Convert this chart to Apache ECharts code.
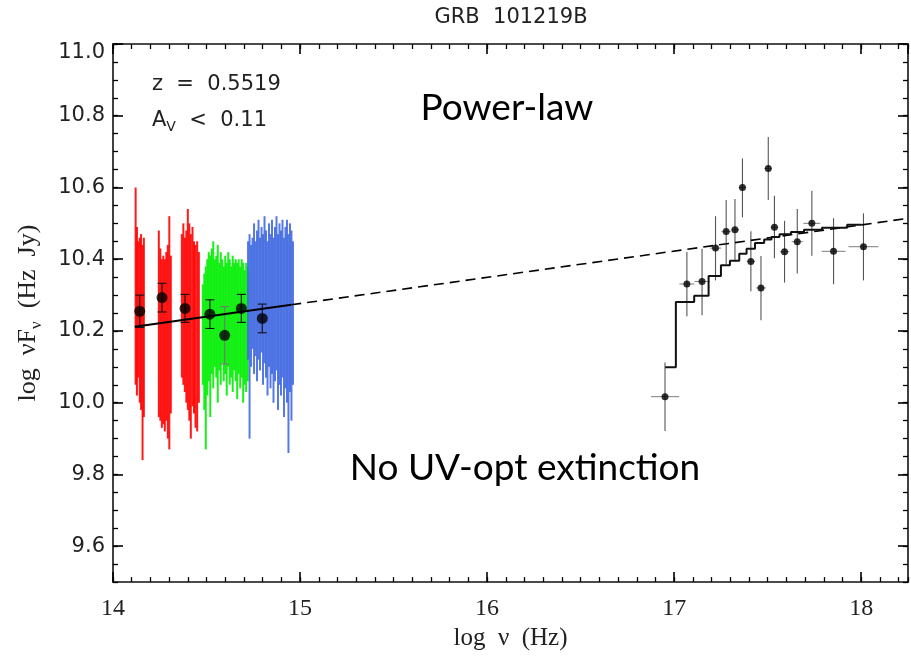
<!DOCTYPE html>
<html><head><meta charset="utf-8">
<script src="https://cdn.jsdelivr.net/npm/echarts@6/dist/echarts.min.js"></script>
<style>html,body{margin:0;padding:0;background:#fff}#c{width:911px;height:656px}</style>
</head><body><div id="c"></div>
<script>
// ---- tick labels ----
const xTicks = [14, 15, 16, 17, 18];
const yTicks = [9.6, 9.8, 10.0, 10.2, 10.4, 10.6, 10.8, 11.0];

// ---- UV/optical spectra: bin centre (log nu) and low/high of each error line ----
const redX  = [14.121,14.128,14.135,14.143,14.150,14.158,14.165, 14.245,14.253,14.261,14.269,14.277,14.285,14.293,14.301,14.309, 14.368,14.376,14.384,14.392,14.400,14.408,14.416,14.425,14.433,14.441,14.450,14.459];
const redLo = [10.05,10.02,10.07,10.00,9.98,9.84,9.96, 9.96,9.95,9.93,9.94,9.92,9.95,9.90,9.87,9.97, 10.07,10.05,10.03,10.00,9.98,9.95,9.90,9.99,9.97,9.93,9.92,10.00];
const redHi = [10.60,10.49,10.45,10.46,10.47,10.44,10.46, 10.48,10.43,10.40,10.41,10.40,10.42,10.44,10.52,10.41, 10.47,10.50,10.46,10.48,10.54,10.50,10.47,10.49,10.45,10.44,10.45,10.42];

const greenX  = [14.480,14.488,14.496,14.504,14.512,14.520,14.528,14.536,14.544,14.552,14.560,14.568,14.576,14.584,14.592,14.600,14.608,14.616,14.624,14.632,14.640,14.648,14.656,14.664,14.672,14.680,14.688,14.696,14.704,14.712,14.720];
const greenLo = [10.05,9.98,9.87,10.02,10.06,9.96,10.08,10.04,10.10,10.07,10.00,10.09,10.05,10.11,10.06,10.08,10.02,10.10,10.05,10.07,10.03,10.09,10.06,10.01,10.08,10.04,10.07,10.00,10.05,10.03,10.06];
const greenHi = [10.33,10.36,10.38,10.40,10.42,10.41,10.43,10.45,10.40,10.41,10.44,10.39,10.42,10.40,10.38,10.41,10.39,10.42,10.40,10.38,10.41,10.39,10.40,10.39,10.40,10.38,10.40,10.39,10.37,10.39,10.38];

const blueX  = [14.722,14.730,14.738,14.746,14.754,14.762,14.770,14.778,14.786,14.794,14.802,14.810,14.818,14.826,14.834,14.842,14.850,14.858,14.866,14.874,14.882,14.890,14.898,14.906,14.914,14.922,14.930,14.938,14.946,14.954,14.962];
const blueLo = [10.12,9.90,10.10,10.15,10.08,10.13,10.06,10.12,10.09,10.14,10.05,10.11,10.07,10.02,10.10,10.04,10.08,10.00,10.06,10.09,9.98,10.05,10.02,10.07,9.96,10.04,10.00,9.86,10.03,9.95,10.05];
const blueHi = [10.45,10.47,10.44,10.46,10.50,10.45,10.48,10.51,10.46,10.49,10.47,10.52,10.48,10.45,10.50,10.47,10.51,10.46,10.49,10.52,10.47,10.50,10.48,10.51,10.46,10.49,10.51,10.47,10.50,10.48,10.45];

// ---- photometric points ----
const optX   = [14.143, 14.262, 14.385, 14.518, 14.597, 14.686, 14.798];
const optY   = [10.255, 10.293, 10.263, 10.247, 10.188, 10.263, 10.235];
const optErr = [0.045, 0.040, 0.039, 0.040, 0.080, 0.039, 0.040];

// ---- X-ray points ----
const xrX    = [16.951,17.068,17.149,17.221,17.278,17.325,17.365,17.410,17.464,17.503,17.536,17.590,17.658,17.736,17.852,18.012];
const xrY    = [10.017,10.331,10.338,10.431,10.477,10.482,10.600,10.394,10.320,10.653,10.489,10.421,10.449,10.500,10.422,10.435];
const xrYHi  = [10.112,10.420,10.429,10.520,10.565,10.568,10.681,10.478,10.409,10.741,10.577,10.507,10.540,10.591,10.514,10.528];
const xrYLo  = [9.921,10.241,10.244,10.341,10.387,10.394,10.517,10.311,10.230,10.565,10.403,10.335,10.360,10.410,10.330,10.341];
const xrXErr = [0.075,0.040,0.040,0.030,0.025,0.022,0.020,0.022,0.025,0.020,0.020,0.025,0.030,0.045,0.064,0.080];

// ---- absorbed model (histogram) : bin edges and levels ----
const stepEdges  = [16.952,17.009,17.107,17.184,17.250,17.298,17.348,17.387,17.432,17.481,17.520,17.563,17.624,17.694,17.790,17.925,18.003];
const stepLevels = [10.099,10.281,10.298,10.353,10.383,10.396,10.415,10.429,10.445,10.455,10.462,10.470,10.476,10.482,10.488,10.496];

// ---- power law (solid over data, dashed extrapolation) ----
const plX = [14.116, 14.953, 18.25];
const plY = [10.212, 10.273, 10.514];

const chart = echarts.init(document.getElementById('c'));

function zip3(a,b,c){ return a.map((v,i)=>[v,b[i],c[i]]); }

function specRender(color){
  return function(params, api){
    const p0 = api.coord([api.value(0), api.value(1)]);
    const p1 = api.coord([api.value(0), api.value(2)]);
    return {type:'line', shape:{x1:p0[0],y1:p0[1],x2:p1[0],y2:p1[1]},
            style:{stroke:color, lineWidth:2, opacity:0.9}};
  };
}

const stepData = [];
stepLevels.forEach((v,i)=>{ stepData.push([stepEdges[i], v]); stepData.push([stepEdges[i+1], v]); });
const plSolid = [[plX[0],plY[0]],[plX[1],plY[1]]];
const plDash  = [[plX[1],plY[1]],[plX[2],plY[2]]];

const TK = '#000000';   // tick colour (used only by ticks)
const AX = '#111111';
const TXT = '#222222';

function polyRender(pts, style){
  return function(params, api){
    if (params.dataIndex !== 0) return null;
    const P = pts.map(p => api.coord(p));
    return {type:'polyline', shape:{points:P}, style:Object.assign({fill:null}, style)};
  };
}

function buildOption(cfg){
  const xAxes = [
    {type:'value', position:'bottom', min:14, max:18.25, interval:1, splitLine:{show:false},
     axisLine:{show:true, lineStyle:{color:AX, width:1.6}},
     axisTick:{show:true, inside:true, length:10, lineStyle:{color:TK, width:1.6}},
     axisLabel:{show:true, margin:15, showMaxLabel:false, fontFamily:'Liberation Serif', fontSize:24, color:TXT},
     name:'log  ν  (Hz)', nameLocation:'middle', nameGap:36,
     nameTextStyle:{fontFamily:'Liberation Serif', fontSize:25, color:TXT}},
    {type:'value', position:'bottom', min:14, max:18.25, interval:0.1, splitLine:{show:false},
     axisLine:{show:false}, axisTick:{show:true, inside:true, length:5, lineStyle:{color:TK, width:1.3}}, axisLabel:{show:false}},
    {type:'value', position:'top', min:14, max:18.25, interval:1, splitLine:{show:false},
     axisLine:{show:true, lineStyle:{color:AX, width:1.6}}, axisTick:{show:true, inside:true, length:10, lineStyle:{color:TK, width:1.6}}, axisLabel:{show:false}},
    {type:'value', position:'top', min:14, max:18.25, interval:0.1, splitLine:{show:false},
     axisLine:{show:false}, axisTick:{show:true, inside:true, length:5, lineStyle:{color:TK, width:1.3}}, axisLabel:{show:false}}
  ];
  const yMain = {type:'value', position:'left', min:9.5, max:11.0, splitLine:{show:false},
     axisLine:{show:true, lineStyle:{color:AX, width:1.6}},
     axisTick:{show:true, inside:true, length:10, customValues:yTicks, lineStyle:{color:TK, width:1.6}},
     axisLabel:{show:true, margin:8, customValues:yTicks, fontFamily:'DejaVu Sans', fontSize:21, color:TXT,
       formatter: v => v.toFixed(1)}};
  if (cfg.richLabel){
    yMain.axisLabel.formatter = v => (v >= 10.999 ? '{m|' + v.toFixed(1) + '}' : v.toFixed(1));
    yMain.axisLabel.rich = {m:{fontFamily:'DejaVu Sans', fontSize:21, color:TXT, padding:[18,0,0,0]}};
  }
  if (cfg.richName){
    yMain.name = '{a|log  ν}{a|F}{s|ν}{a|  (Hz  Jy)}';
    yMain.nameLocation = 'middle'; yMain.nameGap = 68; yMain.nameRotate = 90;
    yMain.nameTextStyle = {fontFamily:'Liberation Serif', fontSize:26, color:TXT,
       rich:{a:{fontFamily:'Liberation Serif', fontSize:26, color:TXT},
             s:{fontFamily:'Liberation Serif', fontSize:17, color:TXT, padding:[16,0,0,0]}}};
  }
  const yAxes = [
    yMain,
    {type:'value', position:'left', min:9.5, max:11.0, interval:0.05, splitLine:{show:false},
     axisLine:{show:false}, axisTick:{show:true, inside:true, length:5, lineStyle:{color:TK, width:1.3}}, axisLabel:{show:false}},
    {type:'value', position:'right', min:9.5, max:11.0, splitLine:{show:false},
     axisLine:{show:true, lineStyle:{color:AX, width:1.6}},
     axisTick:{show:true, inside:true, length:10, customValues:yTicks, lineStyle:{color:TK, width:1.6}}, axisLabel:{show:false}},
    {type:'value', position:'right', min:9.5, max:11.0, interval:0.05, splitLine:{show:false},
     axisLine:{show:false}, axisTick:{show:true, inside:true, length:5, lineStyle:{color:TK, width:1.3}}, axisLabel:{show:false}}
  ];

  const graphic = [];
  if (cfg.graphic){
    graphic.push(
      {type:'text', x:511, y:18, style:{text:'GRB  101219B', fontFamily:'DejaVu Sans', fontSize:21, fill:TXT, textAlign:'center', textVerticalAlign:'middle'}},
      {type:'text', x:152, y:85, style:{text:'z  =  0.5519', fontFamily:'DejaVu Sans', fontSize:21, fill:TXT, textAlign:'left', textVerticalAlign:'middle'}},
      {type:'text', x:152, y:121, style:{text:'{a|A}{s|V}{a|  <  0.11}', textAlign:'left', textVerticalAlign:'middle',
        rich:{a:{fontFamily:'DejaVu Sans', fontSize:21, fill:TXT}, s:{fontFamily:'DejaVu Sans', fontSize:14, fill:TXT, padding:[12,0,0,0]}}}},
      {type:'text', x:507, y:108, style:{text:'Power-law', fontFamily:'Lato', fontSize:37, fill:'#000', textAlign:'center', textVerticalAlign:'middle'}},
      {type:'text', x:525, y:468, style:{text:'No UV-opt extinction', fontFamily:'Lato', fontSize:37, fill:'#000', textAlign:'center', textVerticalAlign:'middle'}}
    );
    if (!cfg.richName){
      graphic.push({type:'text', x:31, y:307, rotation:Math.PI/2,
        style:{text:'{a|log  ν}{a|F}{s|ν}{a|  (Hz  Jy)}', textAlign:'center', textVerticalAlign:'middle',
          rich:{a:{fontFamily:'Liberation Serif', fontSize:26, fill:TXT}, s:{fontFamily:'Liberation Serif', fontSize:17, fill:TXT, padding:[16,0,0,0]}}}});
    }
  }

  const lineSeries = cfg.lines ? [
    {type:'line', name:'pl', data:plSolid, showSymbol:false, symbol:'none', lineStyle:{color:'#000', width:2}},
    {type:'line', name:'pl-ext', data:plDash, showSymbol:false, symbol:'none', lineStyle:{color:'#000', width:1.6, type:[10,6]}},
    {type:'line', name:'model', data:stepData, showSymbol:false, symbol:'none', lineStyle:{color:'#111', width:2}}
  ] : [
    {type:'custom', name:'pl', data:plSolid, encode:{x:0,y:1}, renderItem:polyRender(plSolid, {stroke:'#000', lineWidth:2})},
    {type:'custom', name:'pl-ext', data:plDash, encode:{x:0,y:1}, renderItem:polyRender(plDash, {stroke:'#000', lineWidth:1.6, lineDash:[10,6]})},
    {type:'custom', name:'model', data:stepData, encode:{x:0,y:1}, renderItem:polyRender(stepData, {stroke:'#111', lineWidth:2})}
  ];

  return {
    backgroundColor:'#fff',
    animation:false,
    grid:{left:113, right:3, top:44, bottom:71},
    xAxis:xAxes,
    yAxis:yAxes,
    graphic:graphic,
    series:[
      {type:'custom', name:'red', renderItem:specRender('#ff0000'), data:zip3(redX,redLo,redHi), encode:{x:0,y:[1,2]}},
      {type:'custom', name:'green', renderItem:specRender('#00ee00'), data:zip3(greenX,greenLo,greenHi), encode:{x:0,y:[1,2]}},
      {type:'custom', name:'blue', renderItem:specRender('#4169e1'), data:zip3(blueX,blueLo,blueHi), encode:{x:0,y:[1,2]}}
    ].concat(lineSeries).concat([
      {type:'custom', name:'opt-err', data:zip3(optX,optY,optErr), encode:{x:0,y:1},
        renderItem:(params, api)=>{
          const x=api.value(0), y=api.value(1), e=api.value(2);
          const t=api.coord([x,y+e]), b=api.coord([x,y-e]);
          const col = params.dataIndex===4 ? '#777' : '#111';
          const st = {stroke:col, lineWidth:1.1};
          return {type:'group', children:[
            {type:'line', shape:{x1:t[0],y1:t[1],x2:b[0],y2:b[1]}, style:st},
            {type:'line', shape:{x1:t[0]-4.5,y1:t[1],x2:t[0]+4.5,y2:t[1]}, style:st},
            {type:'line', shape:{x1:b[0]-4.5,y1:b[1],x2:b[0]+4.5,y2:b[1]}, style:st}
          ]};
        }},
      {type:'scatter', name:'opt', data:optX.map((v,i)=>[v,optY[i]]), symbol:'circle', symbolSize:11, itemStyle:{color:'#000'}},
      {type:'custom', name:'xr-err', data:xrX.map((v,i)=>[v,xrY[i],xrYLo[i],xrYHi[i],xrXErr[i]]), encode:{x:0,y:1},
        renderItem:(params, api)=>{
          const x=api.value(0), y=api.value(1);
          const t=api.coord([x,api.value(3)]), b=api.coord([x,api.value(2)]);
          const l=api.coord([x-api.value(4),y]), r=api.coord([x+api.value(4),y]);
          return {type:'group', children:[
            {type:'line', shape:{x1:t[0],y1:t[1],x2:b[0],y2:b[1]}, style:{stroke:'#555', lineWidth:1.1}},
            {type:'line', shape:{x1:l[0],y1:l[1],x2:r[0],y2:r[1]}, style:{stroke:'#888', lineWidth:1.1}}
          ]};
        }},
      {type:'scatter', name:'xr', data:xrX.map((v,i)=>[v,xrY[i]]), symbol:'circle', symbolSize:7, itemStyle:{color:'#000'}}
    ])
  };
}

function tickCount(){
  try {
    const list = chart.getZr().storage.getDisplayList(true);
    let n = 0;
    list.forEach(el => { if (el.style && el.style.stroke === TK && !el.invisible) n++; });
    return n;
  } catch(e){ return -1; }
}

// Try the richest configuration first; fall back if the axis ticks fail to render.
const stages = [
  {richLabel:true,  richName:true,  graphic:true,  lines:true},
  {richLabel:false, richName:false, graphic:true,  lines:true},
  {richLabel:false, richName:false, graphic:true,  lines:false},
  {richLabel:false, richName:false, graphic:false, lines:false}
];
for (let s = 0; s < stages.length; s++){
  try { chart.setOption(buildOption(stages[s]), true); } catch(e) { continue; }
  const n = tickCount();
  if (n < 0 || n >= 120) break;
}
</script>
</body></html>
